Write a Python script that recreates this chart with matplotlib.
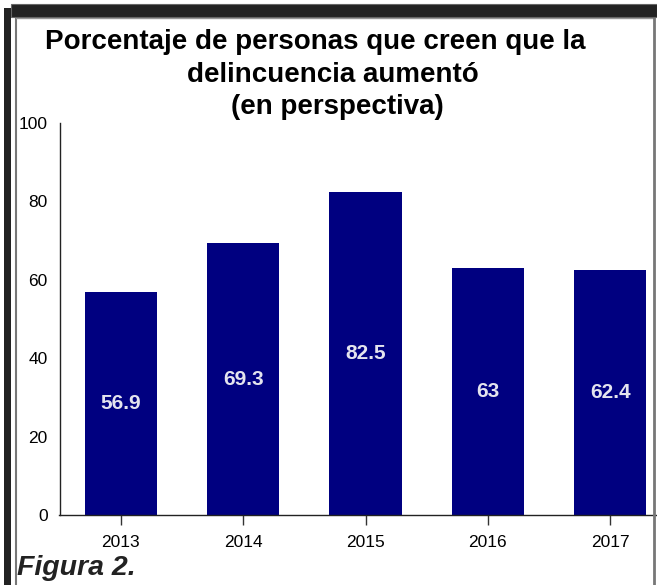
import matplotlib
matplotlib.use("Agg")
import matplotlib.pyplot as plt
from matplotlib.patches import Rectangle
from matplotlib.lines import Line2D

plt.rcParams["font.family"] = ["Liberation Sans", "DejaVu Sans"]

years = ["2013", "2014", "2015", "2016", "2017"]
values = [56.9, 69.3, 82.5, 63, 62.4]
value_labels = ["56.9", "69.3", "82.5", "63", "62.4"]
title_lines = [
    "Porcentaje de personas que creen que la",
    "delincuencia aumentó",
    "(en perspectiva)",
]
caption = "Figura 2."

W, H = 657, 585
fig = plt.figure(figsize=(W / 100, H / 100), dpi=100)


def fx(px):
    return px / W


def fy(py):
    return 1 - py / H


# chart area
ax = fig.add_axes([fx(59.5), fy(515), 1 - fx(59.5), (515 - 123) / H])
x = range(len(values))
ax.bar(x, values, width=0.59, color="#000080", zorder=2)
for i, (v, lab) in enumerate(zip(values, value_labels)):
    ax.text(i, v / 2, lab, ha="center", va="center", color="#e4e4ee",
            fontsize=15, fontweight="bold", zorder=3)

ax.set_xlim(-0.5, -0.5 + (W - 59.5) / 122.4)
ax.set_ylim(0, 100)
ax.set_xticks(list(x))
ax.set_xticklabels(years, fontsize=12.5)
ax.set_yticks([0, 20, 40, 60, 80, 100])
ax.set_yticklabels(["0", "20", "40", "60", "80", "100"], fontsize=12.5)
ax.tick_params(axis="x", direction="inout", length=14, width=1,
               color="#333333", pad=7.5)
ax.tick_params(axis="y", length=0, pad=8.5)
for side in ["top", "right"]:
    ax.spines[side].set_visible(False)
for side in ["left", "bottom"]:
    ax.spines[side].set_color("#222222")
    ax.spines[side].set_linewidth(1)
ax.patch.set_alpha(0)

# title
fig.text(fx(315), fy(42), title_lines[0], ha="center", va="center",
         fontsize=20, fontweight="bold")
fig.text(fx(333), fy(75), title_lines[1], ha="center", va="center",
         fontsize=20, fontweight="bold")
fig.text(fx(337), fy(107), title_lines[2], ha="center", va="center",
         fontsize=20, fontweight="bold")

# caption
fig.text(fx(17), fy(568), caption, ha="left", va="center",
         fontsize=20.5, fontweight="bold", style="italic", color="#222222")

# frame around the figure
fig.patches.append(Rectangle((fx(11), fy(17)), 1 - fx(11), (17 - 4) / H,
                             transform=fig.transFigure, facecolor="#222222",
                             edgecolor="#666666", linewidth=0.8, zorder=5))
fig.patches.append(Rectangle((fx(4), 0), fx(7), fy(8),
                             transform=fig.transFigure, facecolor="#222222",
                             edgecolor="none", zorder=5))
fig.lines.append(Line2D([fx(15.5), fx(15.5)], [0, fy(17)],
                        transform=fig.transFigure, color="#777777", lw=1.5))
fig.lines.append(Line2D([fx(15.5), fx(654)], [fy(18), fy(18)],
                        transform=fig.transFigure, color="#999999", lw=1))
fig.lines.append(Line2D([fx(654), fx(654)], [0, fy(18)],
                        transform=fig.transFigure, color="#777777", lw=2))

fig.savefig("out.png", dpi=100)
